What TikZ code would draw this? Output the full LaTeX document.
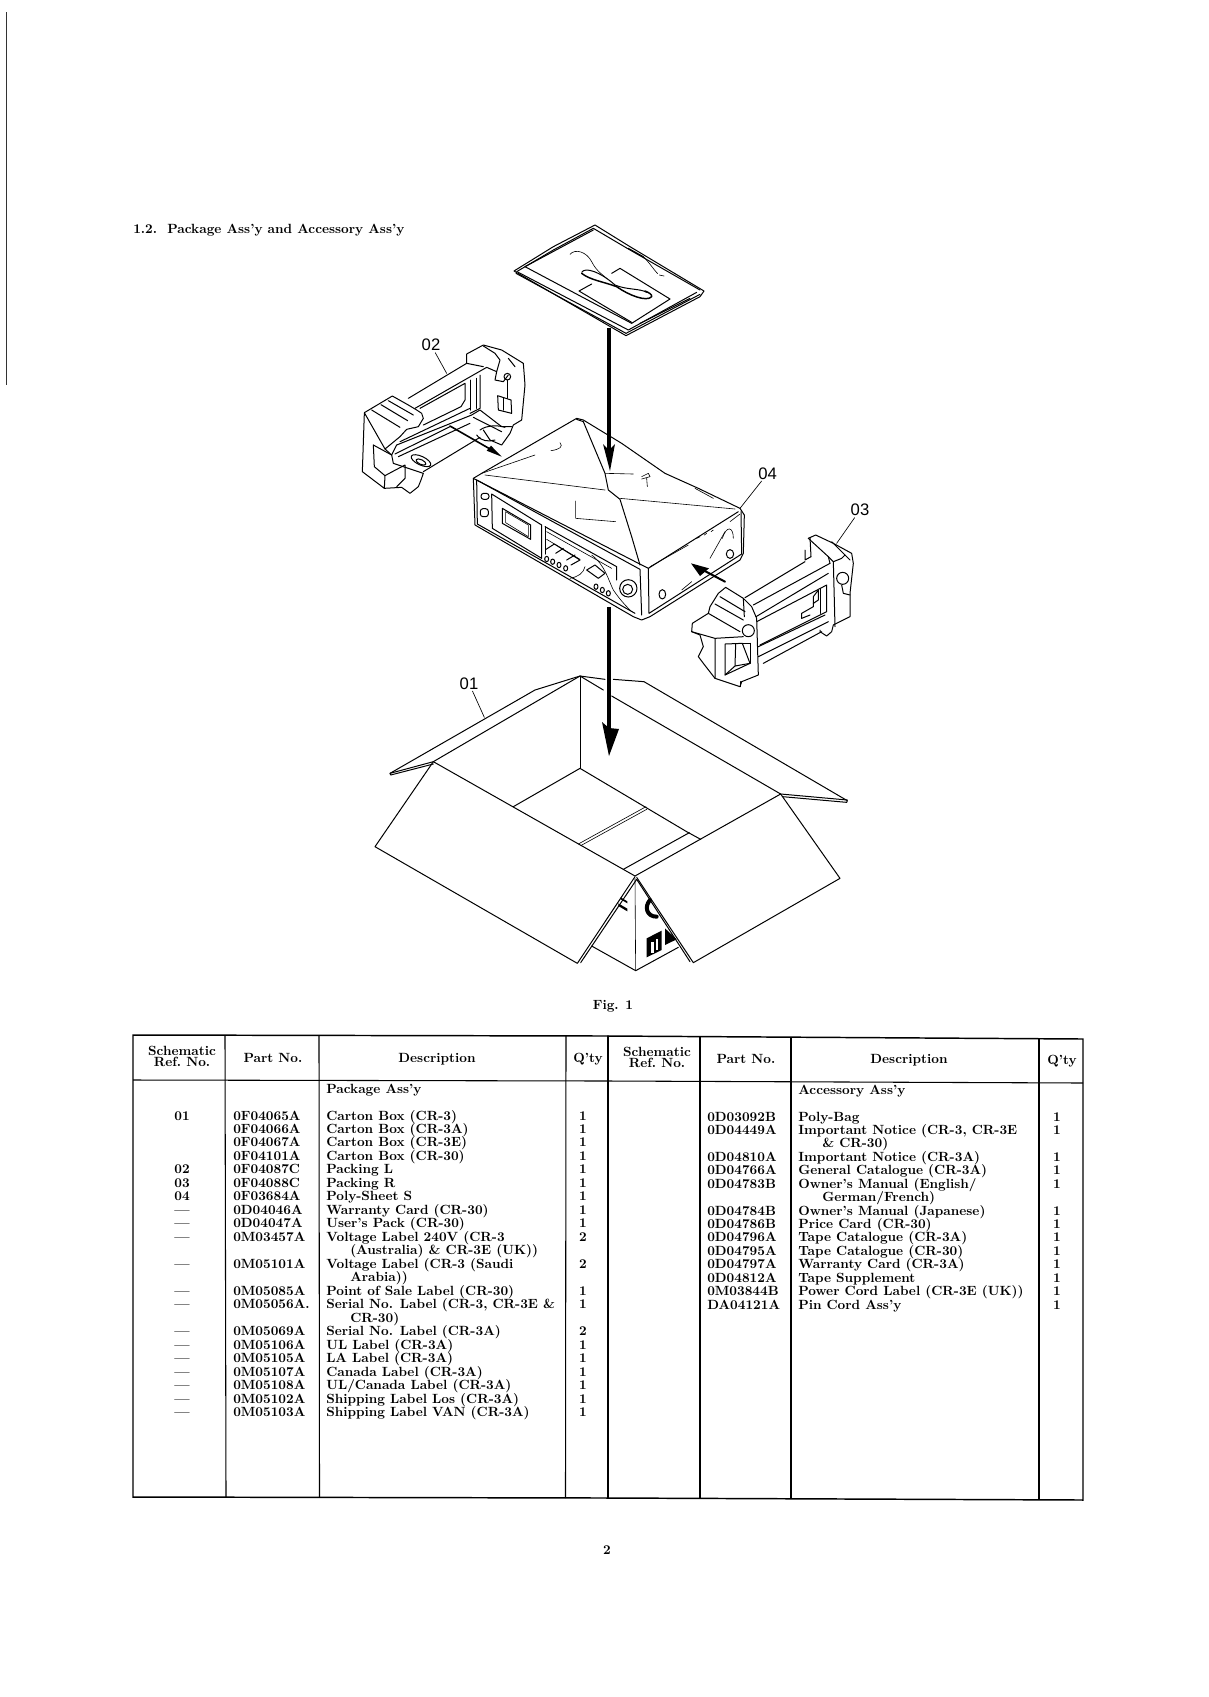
\documentclass[tikz,border=0pt]{standalone}
\usepackage{fontspec}
\newfontfamily\labfont{Liberation Sans}
\newcommand{\tabfont}{\fontsize{10}{11}\selectfont\bfseries\addfontfeature{FakeBold=0.35}}
\newcommand{\numfont}{\fontsize{10}{11}\selectfont\bfseries\addfontfeature{FakeBold=0.35,LetterSpace=6}}
\newcommand{\LL}[5]{%
  \node[reft] (Lr#1) at (182,{1120+13.49*#1}) {#2};
  \node[ptxt] (Lp#1) at (233,{1120+13.49*#1}) {#3};
  \node[txt] (Ld#1) at (326,{1120+13.49*#1}) {#4};
  \node[reft] (Lq#1) at (583,{1120+13.49*#1}) {#5};}
\newcommand{\LC}[2]{\node[txt] (Lc#1) at (350,{1120+13.49*#1}) {#2};}
\newcommand{\RR}[4]{%
  \node[ptxt] (Rp#1) at (707,{1121+13.43*#1}) {#2};
  \node[txt] (Rd#1) at (798,{1121+13.43*#1}) {#3};
  \node[reft] (Rq#1) at (1057,{1121+13.43*#1}) {#4};}
\newcommand{\RC}[2]{\node[txt] (Rc#1) at (822,{1121+13.43*#1}) {#2};}
\tikzset{
  zs/.style 2 args={shift={(#1,#2)},x=0.25pt,y=-0.25pt},
  part/.style={line width=0.75pt,line join=round,line cap=round},
  thin part/.style={line width=0.45pt,line join=round,line cap=round},
  txt/.style={anchor=base west,inner sep=0pt,font=\tabfont},
  ptxt/.style={anchor=base west,inner sep=0pt,font=\numfont},
  reft/.style={anchor=base,inner sep=0pt,font=\tabfont},
  head/.style={anchor=base,inner sep=0pt,font=\tabfont},
  lab/.style={inner sep=1pt,font=\labfont\fontsize{12.5}{14}\selectfont},
  leader/.style={line width=0.5pt},
  frame/.style={line width=1.1pt,line cap=round},
  cell/.style={line width=0.8pt},
}
\begin{document}
\begin{tikzpicture}[x=0.75pt,y=-0.75pt]
\useasboundingbox (0,0) rectangle (1209,1697);
\draw[line width=0.7pt,black!80] (6,12) -- (6,385);
\node[anchor=base west,inner sep=0pt,font=\tabfont] (title) at (133,233) {1.2.\ \ Package Ass’y and Accessory Ass’y};

% ---------- bag
\begin{scope}[zs={500}{215},part]
\draw (42,168) -- (160,95) -- (285,30) -- (390,95) -- (612,228) -- (600,245) -- (378,362) -- cycle;
\draw (50,170) -- (160,105) -- (280,40) -- (385,102) -- (600,225);
\draw (48,175) -- (378,355) -- (600,238);
\draw (55,172) -- (385,345) -- (590,232);
\draw (75,155) -- (280,45);
\draw (75,155) -- (395,325) -- (510,252) -- (360,160) -- (335,175);
\draw (275,207) -- (237,228) -- (395,322);
\draw (420,325) -- (570,250);
\draw (385,100) -- (430,125);
\draw (245,172) .. controls (255,155) and (300,170) .. (345,210) .. controls (380,225) and (420,220) .. (440,232);
\draw[line width=1.1pt] (245,175) .. controls (270,195) and (310,200) .. (350,215) .. controls (385,240) and (440,262) .. (455,245) .. controls (457,238) and (445,232) .. (435,228);
\draw[thin part] (210,118) .. controls (225,100) and (260,110) .. (275,140) .. controls (290,170) and (310,180) .. (322,192);
\draw[thin part] (430,125) .. controls (450,145) and (462,165) .. (473,176);
\draw[thin part] (478,180) -- (492,183);
\end{scope}

% ---------- packing 02
\begin{scope}[zs={355}{330},part]
\draw (28,248) -- (112,198) -- (160,225) -- (185,240) -- (200,250) -- (205,265) -- (190,290) -- (155,298) -- (135,320) -- (90,357) -- cycle;
\draw (50,240) -- (135,292);
\draw (78,224) -- (158,272);
\draw (100,212) -- (175,255);
\draw (28,250) -- (22,425) -- (88,475) -- (90,437) -- (112,425);
\draw (55,345) -- (58,410) -- (90,437);
\draw (55,345) -- (110,375) -- (115,400);
\draw (90,357) -- (110,375);
\draw (115,400) -- (205,430) -- (198,450) -- (190,470) -- (165,490) -- (140,472) -- (88,475);
\draw (112,425) -- (150,405) -- (150,445) -- (125,470);
\draw (160,205) -- (335,100) -- (335,72) -- (385,45) -- (440,60) -- (505,100) -- (510,165) -- (500,270) -- (475,285) -- (465,310) -- (440,345) -- (405,330) -- (385,300);
\draw (385,48) -- (420,70) -- (435,90) -- (425,125) -- (395,112) -- (180,235);
\draw (335,100) -- (385,110);
\draw (425,125) -- (420,150) -- (445,155) -- (460,135);
\draw (460,85) -- (480,110);
\draw (195,235) -- (330,160) -- (330,210) -- (318,230) -- (205,285);
\draw (345,150) -- (345,240);
\draw (365,145) -- (365,235);
\draw (375,135) -- (375,235) -- (345,250);
\draw (135,335) -- (345,235);
\draw (125,345) -- (350,255) -- (375,240) -- (440,290) -- (470,290);
\draw (120,372) -- (285,290);
\draw (130,380) -- (345,280);
\draw (110,375) -- (125,345);
\draw (205,425) -- (375,322);
\draw (355,262) -- (440,305);
\draw (375,300) .. controls (395,285) and (430,285) .. (450,292);
\draw (365,315) .. controls (380,335) and (400,335) .. (420,330);
\draw[rotate around={-25:(198,392)}] (198,392) ellipse [x radius=32, y radius=13];
\draw[rotate around={-25:(198,396)}] (198,396) ellipse [x radius=16, y radius=7];
\draw (457,140) circle [radius=10];
\draw (428,197) -- (468,210) -- (470,250) -- (430,240) -- cycle;
\draw (457,150) -- (457,205);
\draw (445,205) -- (445,240);
\coordinate (a2s) at (285,288);
\coordinate (a2e) at (412,361);
\draw[line width=1.2pt] (a2s) -- (a2e);
\fill (395,362) -- (440,380) -- (408,347) -- cycle;
\node[lab] (lab02) at (228,45) {02};
\coordinate (t02) at (275,130);
\draw[leader] (lab02) -- (t02);
\end{scope}

% ---------- deck
\begin{scope}[zs={465}{410},part]
\draw (25,205) -- (50,190) -- (335,25) -- (355,30) -- (470,100) -- (600,190) -- (700,235) -- (825,295) -- (838,315) -- (835,430) -- (825,450) -- (555,620) -- (530,630) -- (505,620) -- (30,345) -- cycle;
\draw (25,205) -- (530,465) -- (550,475) -- (820,305);
\draw (35,210) -- (525,478) -- (530,615);
\draw (550,475) -- (552,610) -- (830,432) -- (828,305);
\draw (35,210) -- (37,342) -- (510,610);
\draw (335,28) -- (355,35) -- (420,190) -- (430,240) -- (465,268) -- (500,380) -- (525,465);
\draw[thin part] (60,195) -- (420,240);
\draw[thin part] (465,265) -- (810,297);
\draw[thin part] (50,190) -- (210,135);
\draw[thin part] (420,190) -- (505,192);
\draw[thin part] (530,200) -- (550,190) -- (555,200) -- (530,207);
\draw[thin part] (545,205) -- (547,230);
\draw[thin part] (332,273) -- (332,325) -- (452,335);
\draw[thin part] (258,122) .. controls (285,118) and (295,110) .. (285,98);
\draw[thin part] (735,445) -- (780,365);
\draw[thin part] (772,385) .. controls (785,345) and (805,350) .. (805,385);
\draw[thin part] (650,540) -- (680,515);
\draw[thin part] (555,470) -- (670,405);
\draw[thin part] (695,385) -- (705,380);
\draw[thin part] (718,375) -- (725,370);
\draw[thin part] (738,365) -- (745,360);
\draw[thin part] (795,335) -- (825,312);
\draw[thin part] (690,235) -- (745,265);
\draw[rounded corners=2pt] (48,250) rectangle (72,268);
\draw[rounded corners=2pt] (46,296) rectangle (70,320);
\draw (80,252) -- (230,345) -- (230,445) -- (82,355) -- cycle;
\draw (112,295) -- (197,345) -- (197,388) -- (112,340) -- cycle;
\draw[thin part] (122,305) -- (190,345) -- (190,380) -- (122,338) -- cycle;
\draw (240,350) -- (455,470) -- (455,510);
\draw (240,350) -- (240,432);
\draw[thin part] (245,365) -- (440,475);
\draw[thin part] (245,388) -- (345,448);
\draw (243,418) -- (268,402) -- (345,450) -- (318,465);
\draw (272,430) -- (295,415);
\draw (305,450) -- (330,435);
\draw (365,480) -- (390,465) -- (420,490) -- (400,505) -- cycle;
\foreach \px/\py in {245/447,263/455,282/465,302/475,393/530,412/540,430/550}
  \draw (\px,\py) ellipse [x radius=6, y radius=8];
\draw (490,535) circle [radius=26];
\draw (488,538) circle [radius=15];
\draw[thin part] (315,505) .. controls (340,500) and (355,490) .. (360,470);
\draw[thin part] (380,435) .. controls (420,465) and (430,510) .. (445,540) .. controls (465,570) and (485,590) .. (500,605);
\draw (592,553) ellipse [x radius=10, y radius=14];
\draw (795,432) ellipse [x radius=11, y radius=13];
\node[lab] (lab04) at (908,190) {04};
\coordinate (t04) at (825,295);
\draw[leader] (lab04) -- (t04);
\end{scope}

% ---------- packing 03
\begin{scope}[zs={685}{500},part]
\draw (22,370) -- (70,340) -- (75,320) -- (100,280) -- (122,262) -- (175,295) -- (200,320) -- (215,355) -- (220,525) -- (170,545) -- (165,560) -- (90,535) -- (55,490) -- (40,470) -- (55,440) -- (45,405) -- (20,395) -- cycle;
\draw (20,395) -- (90,415) -- (90,535);
\draw (90,415) -- (175,410);
\draw (70,340) -- (165,395);
\draw (90,312) -- (175,360);
\draw (105,290) -- (180,335);
\draw (175,295) -- (178,350);
\draw (120,432) -- (172,430) -- (195,490) -- (120,525) -- cycle;
\draw (120,525) -- (150,498) -- (195,490);
\draw (150,498) -- (152,432);
\draw (195,430) -- (195,490);
\draw (172,430) -- (195,430);
\draw[fill=white] (190,392) circle [radius=18];
\draw (165,545) -- (165,560);
\draw (180,293) -- (360,185);
\draw (205,315) -- (435,190);
\draw (213,350) -- (430,220);
\draw (215,365) -- (425,255) -- (425,335) -- (225,435);
\draw (220,440) -- (420,345);
\draw (220,470) -- (430,365);
\draw (235,490) -- (410,395);
\draw (405,265) -- (405,340);
\draw (385,290) -- (400,270) -- (400,300) -- (385,310) -- cycle;
\draw (350,355) -- (350,340) -- (385,320) -- (385,310);
\draw (350,355) -- (375,345);
\draw (370,115) -- (392,105) -- (445,130) -- (500,160) -- (505,190) -- (495,280) -- (495,350) -- (445,375) -- (440,395) -- (425,408) -- (405,395) -- (405,390);
\draw (370,115) -- (430,170) -- (445,185) -- (450,380);
\draw (360,150) -- (360,180) -- (378,170);
\draw (375,112) -- (378,170);
\draw (445,185) -- (470,175) -- (480,165) -- (495,180);
\draw (440,125) -- (480,165);
\draw (430,170) -- (435,190);
\draw[fill=white] (473,235) circle [radius=18];
\draw (470,255) -- (475,280) -- (495,285);
\coordinate (a3s) at (120,245);
\coordinate (a3e) at (50,208);
\draw[line width=1.5pt] (a3s) -- (a3e);
\fill (18,190) -- (72,205) -- (45,228) -- cycle;
\node[lab] (lab03) at (525,30) {03};
\coordinate (t03) at (455,130);
\draw[leader] (lab03) -- (t03);
\end{scope}

% ---------- carton
\begin{scope}[zs={370}{640},part]
\draw (705,118) -- (630,108) -- (495,150) -- (60,400) -- (62,405) -- (190,372);
\draw (60,400) -- (190,365);
\draw (730,118) -- (822,125) -- (1432,482) -- (1430,487) -- (1238,470);
\draw (1232,462) -- (1432,480);
\draw (190,365) -- (630,108) -- (700,150);
\draw (725,168) -- (1232,462);
\draw[thin part] (630,108) -- (630,385);
\draw (430,500) -- (630,385) -- (950,575) -- (992,598);
\draw[thin part] (625,612) -- (828,500);
\draw[thin part] (632,617) -- (830,508);
\draw (760,688) -- (958,578);
\draw (190,365) -- (15,620) -- (622,970) -- (795,710);
\draw (190,365) -- (795,708);
\draw (632,968) -- (800,718);
\draw (795,708) -- (1232,462) -- (1410,715) -- (970,968) -- (800,712);
\draw (960,965) -- (800,718);
\draw[thin part] (795,715) -- (797,992);
\draw (665,918) -- (797,992) -- (925,922);
\fill (745,790) -- (772,806) -- (772,814) -- (745,798) -- cycle;
\fill (752,772) -- (772,784) -- (772,790) -- (752,778) -- cycle;
\draw[line width=3pt] (840,780) .. controls (822,800) and (830,830) .. (860,830);
\fill (830,895) -- (875,872) -- (875,930) -- (830,952) -- cycle;
\fill[white] (843,905) rectangle (851,938);
\fill[white] (857,897) rectangle (865,930);
\fill (885,865) -- (920,898) -- (885,915) -- cycle;
\node[lab] (lab01) at (297,130) {01};
\coordinate (t01) at (343,232);
\draw[leader] (lab01) -- (t01);
\end{scope}

% ---------- main arrows
\coordinate (a1s) at (609,328);
\coordinate (a1e) at (609,450);
\draw[line width=2.6pt] (a1s) -- (a1e);
\fill (603,444) -- (609,450) -- (615,444) -- (610,471) -- cycle;
\coordinate (a4s) at (609,607);
\coordinate (a4e) at (609,728);
\draw[line width=3.4pt] (a4s) -- (a4e);
\fill (602,722) -- (609,728) -- (619,729) -- (609,756) -- cycle;

\node[font=\tabfont,inner sep=0pt] (fig) at (613,1006) {Fig. 1};
\node[font=\tabfont,inner sep=0pt] (pg) at (607,1550) {2};

% ---------- table
\draw[frame] (133,1035) -- (608,1036) -- (1083,1039) -- (1083,1500) -- (608,1498) -- (133,1497) -- cycle;
\draw[cell] (133,1080) -- (608,1081) -- (1083,1083);
\draw[cell] (225,1035) -- (226,1497);
\draw[cell] (319,1035) -- (319.5,1497);
\draw[cell] (566,1036) -- (565.5,1498);
\draw[frame] (608,1036) -- (608,1498);
\draw[cell] (700,1037) -- (700,1499);
\draw[cell] (791,1037) -- (791,1499);
\draw[cell] (1039,1039) -- (1039,1500);
\foreach \nm/\cx/\cy/\tx in {ha/182/1055/Schematic,hb/182/1066/Ref.\ No.,hc/273/1062/Part No.,hd/437/1062/Description,he/588/1062/Q’ty,hf/657/1056/Schematic,hg/657/1067/Ref.\ No.,hh/746/1063/Part No.,hi/909/1063/Description,hj/1062/1064/Q’ty}
  \node[head] (\nm) at (\cx,\cy) {\tx};
\node[txt] (pa) at (326,1093) {Package Ass’y};
\node[txt] (aa) at (798,1094) {Accessory Ass’y};
\LL{0}{01}{0F04065A}{Carton Box (CR-3)}{1}
\LL{1}{}{0F04066A}{Carton Box (CR-3A)}{1}
\LL{2}{}{0F04067A}{Carton Box (CR-3E)}{1}
\LL{3}{}{0F04101A}{Carton Box (CR-30)}{1}
\LL{4}{02}{0F04087C}{Packing L}{1}
\LL{5}{03}{0F04088C}{Packing R}{1}
\LL{6}{04}{0F03684A}{Poly-Sheet S}{1}
\LL{7}{—}{0D04046A}{Warranty Card (CR-30)}{1}
\LL{8}{—}{0D04047A}{User’s Pack (CR-30)}{1}
\LL{9}{—}{0M03457A}{Voltage Label 240V (CR-3}{2}
\LC{10}{(Australia) \& CR-3E (UK))}
\LL{11}{—}{0M05101A}{Voltage Label (CR-3 (Saudi}{2}
\LC{12}{Arabia))}
\LL{13}{—}{0M05085A}{Point of Sale Label (CR-30)}{1}
\LL{14}{—}{0M05056A.}{Serial No. Label (CR-3, CR-3E \&}{1}
\LC{15}{CR-30)}
\LL{16}{—}{0M05069A}{Serial No. Label (CR-3A)}{2}
\LL{17}{—}{0M05106A}{UL Label (CR-3A)}{1}
\LL{18}{—}{0M05105A}{LA Label (CR-3A)}{1}
\LL{19}{—}{0M05107A}{Canada Label (CR-3A)}{1}
\LL{20}{—}{0M05108A}{UL/Canada Label (CR-3A)}{1}
\LL{21}{—}{0M05102A}{Shipping Label Los (CR-3A)}{1}
\LL{22}{—}{0M05103A}{Shipping Label VAN (CR-3A)}{1}
\RR{0}{0D03092B}{Poly-Bag}{1}
\RR{1}{0D04449A}{Important Notice (CR-3, CR-3E}{1}
\RC{2}{\& CR-30)}
\RR{3}{0D04810A}{Important Notice (CR-3A)}{1}
\RR{4}{0D04766A}{General Catalogue (CR-3A)}{1}
\RR{5}{0D04783B}{Owner’s Manual (English/}{1}
\RC{6}{German/French)}
\RR{7}{0D04784B}{Owner’s Manual (Japanese)}{1}
\RR{8}{0D04786B}{Price Card (CR-30)}{1}
\RR{9}{0D04796A}{Tape Catalogue (CR-3A)}{1}
\RR{10}{0D04795A}{Tape Catalogue (CR-30)}{1}
\RR{11}{0D04797A}{Warranty Card (CR-3A)}{1}
\RR{12}{0D04812A}{Tape Supplement}{1}
\RR{13}{0M03844B}{Power Cord Label (CR-3E (UK))}{1}
\RR{14}{DA04121A}{Pin Cord Ass’y}{1}
\end{tikzpicture}
\end{document}
